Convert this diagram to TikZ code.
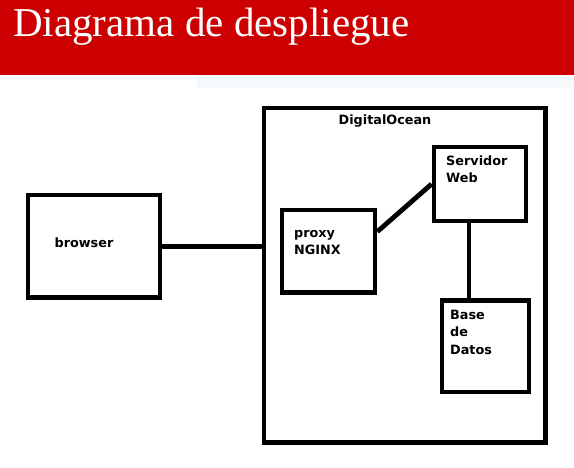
\documentclass[tikz,border=0pt]{standalone}
\usepackage{fontspec}
\setmainfont{Liberation Serif}
\newfontfamily\cajafont{DejaVu Sans}
\usepackage{tikz}
\usetikzlibrary{positioning, calc}
\definecolor{rojobanner}{RGB}{204,0,0}
\definecolor{fondoclaro}{RGB}{245,249,251}

\begin{document}
\begin{tikzpicture}[x=1pt, y=-1pt,
	caja/.style={draw, line width=4.8pt, inner sep=0pt},
	conector/.style={line width=4.8pt},
	etiqueta/.style={inner sep=0pt, align=left, font=\cajafont\bfseries\fontsize{12.8}{17.5}\selectfont},
	titulo/.style={inner sep=0pt, white, font=\fontsize{41}{49}\selectfont}]

\useasboundingbox (0,0) rectangle (574,467);
\fill[white] (0,0) rectangle (574,467);
\fill[rojobanner] (0,0) rectangle (574,75);
\fill[fondoclaro] (197,75) rectangle (574,88);
\node[titulo, anchor=base west] (titulo) at (13,36) {Diagrama de despliegue};

\node[caja, minimum width=281.5pt, minimum height=334.5pt] (nube) at (404.75,275.25) {};
\node[caja, minimum width=132pt, minimum height=102.5pt] (browser) at (94,246.25) {};
\node[caja, minimum width=93pt, minimum height=82.5pt] (proxy) at (328.5,251.25) {};
\node[caja, minimum width=92pt, minimum height=74pt] (servidor) at (480,184) {};
\node[caja, minimum width=87pt, minimum height=91.5pt] (base) at (485.5,346.25) {};

\node[etiqueta, anchor=base] (txtnube) at (385,124) {DigitalOcean};
\node[etiqueta, anchor=base] (txtbrowser) at (84,247.5) {browser};
\node[etiqueta, anchor=north west] (txtproxy) at (294,224.75) {\strut proxy\\NGINX};
\node[etiqueta, anchor=north west] (txtservidor) at (446,152.75) {\strut Servidor\\Web};
\node[etiqueta, anchor=north west] (txtbase) at (450,307) {\strut Base\\de\\Datos};

\draw[conector] (browser.east) -- (browser.east -| nube.west);
\draw[conector] ([yshift=-24pt]proxy.north east) -- (servidor.west);
\draw[conector] ([xshift=-11pt]servidor.south) -- ([xshift=-11pt]servidor.south |- base.north);

\end{tikzpicture}
\end{document}
